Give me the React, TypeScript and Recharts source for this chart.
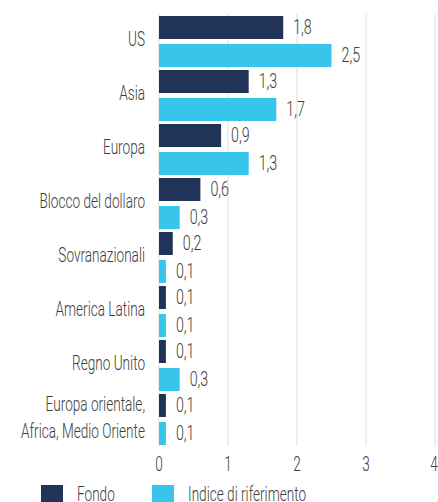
import { Bar, BarChart, CartesianGrid, LabelList, XAxis, YAxis } from "recharts";

const categories = [
  "US",
  "Asia",
  "Europa",
  "Blocco del dollaro",
  "Sovranazionali",
  "America Latina",
  "Regno Unito",
  "Europa orientale,\nAfrica, Medio Oriente",
];
const fondo = [1.8, 1.3, 0.9, 0.6, 0.2, 0.1, 0.1, 0.1];
const indice = [2.5, 1.7, 1.3, 0.3, 0.1, 0.1, 0.3, 0.1];
const xTicks = [0, 1, 2, 3, 4];

const data = categories.map((name, i) => ({ name, fondo: fondo[i], indice: indice[i] }));

const FONT = "Roboto, sans-serif";
const TEXT = "#3d3d3d";
const DARK = "#22335a";
const LIGHT = "#38c5ec";
const SX = 0.68; // squeeze text horizontally to fake a condensed face

const fmt = (v: any) => String(v).replace(".", ",");

// text drawn narrow: scale around its own anchor point
function Narrow({ x, y, anchor, size, children }: any) {
  return (
    <text
      transform={`translate(${x},${y}) scale(${SX},1)`}
      x={0}
      y={0}
      dy="0.35em"
      textAnchor={anchor}
      fill={TEXT}
      fontSize={size}
      fontWeight={300}
      fontFamily={FONT}
    >
      {children}
    </text>
  );
}

function CategoryTick(props: any) {
  const { x, y, payload } = props;
  const lines = String(payload.value).split("\n");
  const lh = 27;
  const start = -((lines.length - 1) * lh) / 2;
  return (
    <g>
      {lines.map((l, i) => (
        <Narrow key={i} x={x} y={y + start + i * lh - 2} anchor="end" size={20}>
          {l}
        </Narrow>
      ))}
    </g>
  );
}

function NumTick(props: any) {
  const { x, y, payload } = props;
  return (
    <Narrow x={x} y={y + 6} anchor="middle" size={20}>
      {payload.value}
    </Narrow>
  );
}

function ValueLabel(props: any) {
  const { x, y, width, height, value } = props;
  return (
    <Narrow x={x + width + 10} y={y + height / 2 - 1} anchor="start" size={21}>
      {fmt(value)}
    </Narrow>
  );
}

export default function App() {
  return (
    <div style={{ position: "absolute", left: 0, top: 0, width: 438, height: 502, background: "#fff", fontFamily: FONT, overflow: "hidden" }}>
      <BarChart
        width={438}
        height={478}
        data={data}
        layout="vertical"
        margin={{ top: 14, right: 3, left: 0, bottom: 0 }}
        barCategoryGap={2}
        barGap={5}
      >
        <CartesianGrid horizontal={false} stroke="#e8e8e8" strokeWidth={1.5} />
        <XAxis
          type="number"
          domain={[0, 4]}
          ticks={xTicks}
          axisLine={false}
          tickLine={false}
          tickSize={0}
          tickMargin={12}
          height={32}
          tick={<NumTick />}
        />
        <YAxis
          type="category"
          dataKey="name"
          width={159}
          axisLine={false}
          tickLine={false}
          tickSize={0}
          tickMargin={14}
          tick={<CategoryTick />}
          interval={0}
        />
        <Bar dataKey="fondo" fill={DARK} barSize={23} isAnimationActive={false}>
          <LabelList dataKey="fondo" content={<ValueLabel />} />
        </Bar>
        <Bar dataKey="indice" fill={LIGHT} barSize={23} isAnimationActive={false}>
          <LabelList dataKey="indice" content={<ValueLabel />} />
        </Bar>
      </BarChart>
      <div style={{ position: "absolute", top: 485, left: 41, display: "flex", alignItems: "flex-start", fontSize: 20, fontWeight: 300, color: TEXT, lineHeight: "18px" }}>
        <span style={{ display: "inline-block", width: 22, height: 18, background: DARK }} />
        <span style={{ marginLeft: 14, width: 75, transform: `scaleX(${SX})`, transformOrigin: "left", whiteSpace: "nowrap" }}>Fondo</span>
        <span style={{ display: "inline-block", width: 22, height: 18, background: LIGHT }} />
        <span style={{ marginLeft: 14, transform: `scaleX(${SX})`, transformOrigin: "left", whiteSpace: "nowrap" }}>Indice di riferimento</span>
      </div>
    </div>
  );
}
